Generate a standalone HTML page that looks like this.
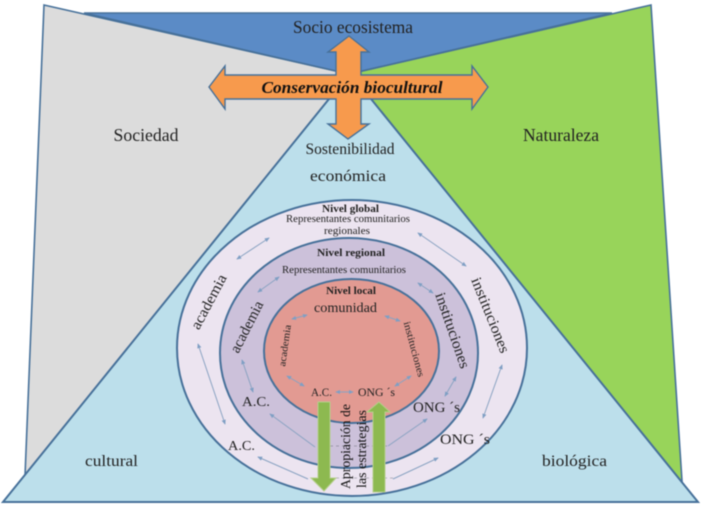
<!DOCTYPE html>
<html><head><meta charset="utf-8"><style>
html,body{margin:0;padding:0;background:#fff}
svg{display:block;filter:blur(.55px)}
text{font-family:"Liberation Serif",serif;fill:#222;text-anchor:middle}
.d{fill:none;stroke:#8aa3c2;stroke-width:1}
</style></head><body>
<svg width="717" height="507" viewBox="0 0 717 507" xmlns="http://www.w3.org/2000/svg">
<defs>
<marker id="a" viewBox="0 0 6 6" refX="5" refY="3" markerWidth="5" markerHeight="5" orient="auto-start-reverse"><path d="M0 .5L6 3L0 5.500z" fill="#7f9fc4"/></marker>
</defs>
<polygon points="44,5 349,74 349,300 25,476" fill="#dcdcdc" stroke="#47719a" stroke-width="1.6"/>
<polygon points="651,5 349,74 349,300 682,481" fill="#98d45a" stroke="#47719a" stroke-width="1.6"/>
<polygon points="84,13 612,13 349,74" fill="#5b8bc6" stroke="#47719a" stroke-width="1.6"/>
<polygon points="350,73 698,502 3,502" fill="#bcdfeb" stroke="#47719a" stroke-width="2"/>

<ellipse cx="352" cy="348" rx="175" ry="148" fill="#ece4f0" stroke="#47719a" stroke-width="2"/>
<ellipse cx="349" cy="353" rx="129" ry="115" fill="#ccc1da" stroke="#47719a" stroke-width="2"/>
<ellipse cx="351.5" cy="351" rx="87.5" ry="72" fill="#e29a92" stroke="#47719a" stroke-width="2"/>

<line x1="237" y1="259" x2="269" y2="238" class="d" marker-start="url(#a)" marker-end="url(#a)"/>
<line x1="418" y1="233" x2="466" y2="266" class="d" marker-start="url(#a)" marker-end="url(#a)"/>
<line x1="198" y1="344" x2="225" y2="424" class="d" marker-start="url(#a)" marker-end="url(#a)"/>
<line x1="483" y1="418" x2="502" y2="365" class="d" marker-start="url(#a)" marker-end="url(#a)"/>
<line x1="258" y1="292" x2="279" y2="277" class="d" marker-start="url(#a)" marker-end="url(#a)"/>
<line x1="418" y1="283" x2="433" y2="293" class="d" marker-start="url(#a)" marker-end="url(#a)"/>
<line x1="242" y1="360" x2="253" y2="392" class="d" marker-start="url(#a)" marker-end="url(#a)"/>
<line x1="445" y1="396" x2="456" y2="377" class="d" marker-start="url(#a)" marker-end="url(#a)"/>
<line x1="292" y1="319" x2="307" y2="315" class="d" marker-start="url(#a)" marker-end="url(#a)"/>
<line x1="385" y1="316" x2="400" y2="321" class="d" marker-start="url(#a)" marker-end="url(#a)"/>
<line x1="287" y1="376" x2="304" y2="386" class="d" marker-start="url(#a)" marker-end="url(#a)"/>
<line x1="395" y1="386" x2="411" y2="376" class="d" marker-start="url(#a)" marker-end="url(#a)"/>
<line x1="336" y1="392" x2="353" y2="392" class="d" marker-start="url(#a)" marker-end="url(#a)"/>
<line x1="315" y1="447" x2="270" y2="414" class="d" marker-end="url(#a)"/>
<line x1="308" y1="479" x2="258" y2="457" class="d" marker-end="url(#a)"/>
<line x1="388" y1="446" x2="427" y2="419" class="d" marker-end="url(#a)"/>
<line x1="393" y1="479" x2="438" y2="458" class="d" marker-end="url(#a)"/>
<line x1="318" y1="446" x2="388" y2="446" stroke="#8a8a9a" stroke-width=".7" stroke-dasharray="3 3"/>
<line x1="318" y1="478" x2="393" y2="478" stroke="#a0a0aa" stroke-width=".7" stroke-dasharray="3 3"/>

<polygon points="349,36 369,52 361,52 361,75 472,75 472,66 488,87 472,109 472,99 361,99 361,124 369,124 348,139 328,124 336,124 336,99 225,99 225,109 209,87 225,66 225,75 336,75 336,52 328,52" fill="#f79a4d" stroke="#47719a" stroke-width="1.4"/>

<polygon points="318,402 330,402 330,478 336,478 324,491 311,478 318,478" fill="#8db950" stroke="#b5cf8c" stroke-width="1"/>
<polygon points="373,492 385,492 385,412 390,412 379,402 367,412 373,412" fill="#8db950" stroke="#b5cf8c" stroke-width="1"/>

<text x="353" y="33" font-size="18" textLength="120" lengthAdjust="spacingAndGlyphs">Socio ecosistema</text>
<text x="352" y="93" font-size="17" font-weight="bold" font-style="italic" textLength="181" lengthAdjust="spacingAndGlyphs" style="fill:#111">Conservación biocultural</text>
<text x="146" y="141" font-size="18" textLength="65" lengthAdjust="spacingAndGlyphs">Sociedad</text>
<text x="561" y="141" font-size="18" textLength="76" lengthAdjust="spacingAndGlyphs">Naturaleza</text>
<text x="350" y="154" font-size="16" textLength="89" lengthAdjust="spacingAndGlyphs">Sostenibilidad</text>
<text x="348" y="181" font-size="16" textLength="76" lengthAdjust="spacingAndGlyphs">económica</text>
<text x="111.500" y="466" font-size="16" textLength="53" lengthAdjust="spacingAndGlyphs">cultural</text>
<text x="574.500" y="466" font-size="16" textLength="65" lengthAdjust="spacingAndGlyphs">biológica</text>

<text x="350.500" y="212" font-size="11" font-weight="bold" textLength="57" lengthAdjust="spacingAndGlyphs">Nivel global</text>
<text x="348" y="222" font-size="10.500" textLength="124" lengthAdjust="spacingAndGlyphs">Representantes comunitarios</text>
<text x="347" y="234" font-size="10.500" textLength="46" lengthAdjust="spacingAndGlyphs">regionales</text>
<text x="351" y="256" font-size="11" font-weight="bold" textLength="68" lengthAdjust="spacingAndGlyphs">Nivel regional</text>
<text x="344" y="273" font-size="10.500" textLength="124" lengthAdjust="spacingAndGlyphs">Representantes comunitarios</text>
<text x="351" y="294" font-size="11" font-weight="bold" textLength="50" lengthAdjust="spacingAndGlyphs">Nivel local</text>
<text x="345.500" y="312" font-size="14" textLength="63" lengthAdjust="spacingAndGlyphs">comunidad</text>

<text transform="translate(213,304) rotate(-62)" font-size="15" textLength="60" lengthAdjust="spacingAndGlyphs">academia</text>
<text transform="translate(251,329) rotate(-63)" font-size="15" textLength="56" lengthAdjust="spacingAndGlyphs">academia</text>
<text transform="translate(288,346) rotate(-82)" font-size="10" textLength="42" lengthAdjust="spacingAndGlyphs">academia</text>
<text transform="translate(486,317) rotate(68)" font-size="15" textLength="80" lengthAdjust="spacingAndGlyphs">instituciones</text>
<text transform="translate(448,332) rotate(71)" font-size="15" textLength="79" lengthAdjust="spacingAndGlyphs">instituciones</text>
<text transform="translate(411,350) rotate(75)" font-size="10" textLength="57" lengthAdjust="spacingAndGlyphs">instituciones</text>

<text x="321.500" y="396" font-size="11.500" textLength="21" lengthAdjust="spacingAndGlyphs">A.C.</text>
<text x="256" y="406" font-size="14" textLength="28" lengthAdjust="spacingAndGlyphs">A.C.</text>
<text x="241.500" y="450" font-size="14" textLength="27" lengthAdjust="spacingAndGlyphs">A.C.</text>
<text x="376.500" y="396" font-size="11.500" textLength="37" lengthAdjust="spacingAndGlyphs">ONG ´s</text>
<text x="436.500" y="412" font-size="15" textLength="47" lengthAdjust="spacingAndGlyphs">ONG ´s</text>
<text x="465" y="444" font-size="15" textLength="50" lengthAdjust="spacingAndGlyphs">ONG ´s</text>

<text transform="translate(350,446.500) rotate(-90)" font-size="14" textLength="85" lengthAdjust="spacingAndGlyphs" style="fill:#111">Apropiación de</text>
<text transform="translate(366,449) rotate(-90)" font-size="14" textLength="78" lengthAdjust="spacingAndGlyphs" style="fill:#111">las estrategias</text>
</svg>
</body></html>
